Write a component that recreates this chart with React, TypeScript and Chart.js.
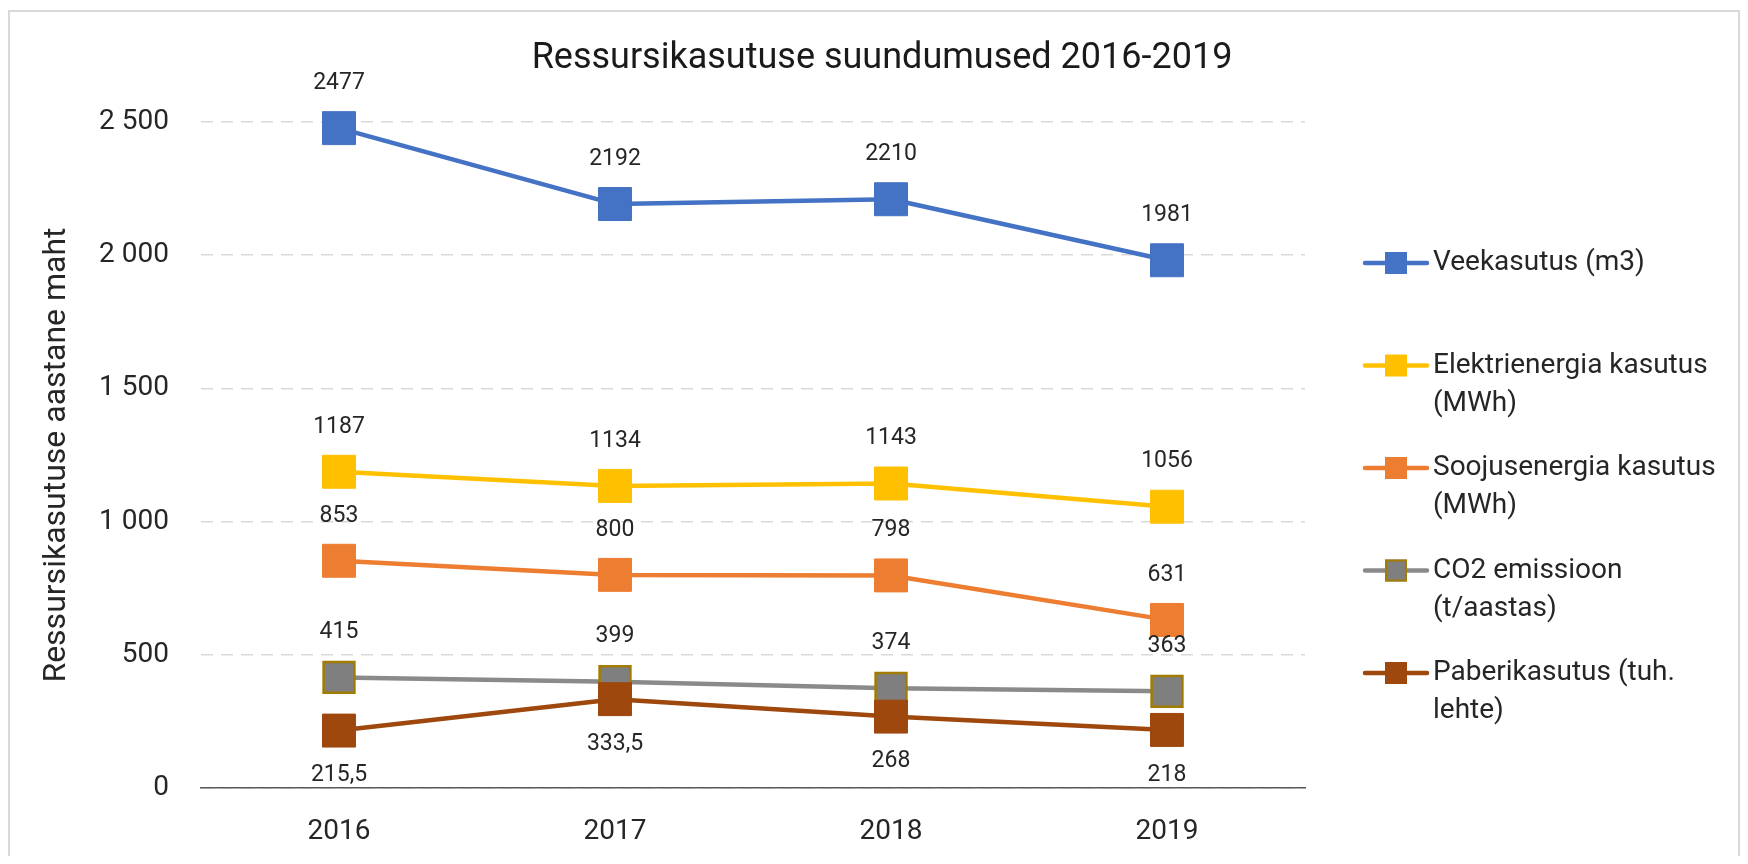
import React, { useEffect, useRef } from 'react';
import { Chart, registerables } from 'chart.js';

Chart.register(...registerables);

const chartTitle = 'Ressursikasutuse suundumused 2016-2019';
const yAxisTitle = 'Ressursikasutuse aastane maht';
const years = ['2016', '2017', '2018', '2019'];
const seriesNames = [
  'Veekasutus (m3)',
  'Elektrienergia kasutus (MWh)',
  'Soojusenergia kasutus (MWh)',
  'CO2 emissioon (t/aastas)',
  'Paberikasutus (tuh. lehte)',
];
const waterValues = [2477, 2192, 2210, 1981];
const electricityValues = [1187, 1134, 1143, 1056];
const heatValues = [853, 800, 798, 631];
const co2Values = [415, 399, 374, 363];
const paperValues = [215.5, 333.5, 268, 218];
const seriesValues = [waterValues, electricityValues, heatValues, co2Values, paperValues];
const seriesColors = ['#4472C4', '#FFC000', '#ED7D31', '#8A8A8A', '#9E480E'];
const markerFillColors = ['#4472C4', '#FFC000', '#ED7D31', '#7F7F7F', '#9E480E'];
const markerBorderColors = ['#4472C4', '#FFC000', '#ED7D31', '#A27C00', '#9E480E'];
const labelSides = ['above', 'above', 'above', 'above', 'below'];
const yMin = 0;
const yMax = 2500;
const yStep = 500;

const FONT = 'Roboto';
const TEXT = '#262626';

const fmtLabel = (v: number) => String(v).replace('.', ',');
const fmtTick = (v: number) => String(v).replace(/\B(?=(\d{3})+(?!\d))/g, ' ');

function wrapText(ctx: CanvasRenderingContext2D, text: string, maxW: number): string[] {
  const words = text.split(' ');
  const lines: string[] = [];
  let cur = '';
  for (const w of words) {
    const test = cur ? cur + ' ' + w : w;
    if (cur && ctx.measureText(test).width > maxW) {
      lines.push(cur);
      cur = w;
    } else {
      cur = test;
    }
  }
  if (cur) lines.push(cur);
  return lines;
}

const decorPlugin = {
  id: 'decor',
  afterDatasetsDraw(chart: any) {
    const ctx: CanvasRenderingContext2D = chart.ctx;
    ctx.save();
    ctx.font = `23px ${FONT}`;
    ctx.fillStyle = TEXT;
    ctx.textAlign = 'center';
    ctx.textBaseline = 'middle';
    chart.data.datasets.forEach((ds: any, i: number) => {
      const meta = chart.getDatasetMeta(i);
      meta.data.forEach((pt: any, j: number) => {
        const off = labelSides[i] === 'below' ? 45 : -45;
        ctx.fillText(fmtLabel(ds.data[j]), pt.x, pt.y + off);
      });
    });
    ctx.restore();
  },
  afterDraw(chart: any) {
    const ctx: CanvasRenderingContext2D = chart.ctx;
    ctx.save();
    // title
    ctx.font = `36px ${FONT}`;
    ctx.fillStyle = '#1a1a1a';
    ctx.textAlign = 'center';
    ctx.textBaseline = 'middle';
    ctx.fillText(chartTitle, 872, 47);

    // legend
    const lineX0 = chart.chartArea.right + 60;
    const lineLen = 62;
    const markerSize = 22;
    const textX = lineX0 + lineLen + 6;
    const firstY = 251;
    const step = 102.5;
    const lineGap = 38;
    ctx.font = `28px ${FONT}`;
    ctx.textAlign = 'left';
    ctx.textBaseline = 'middle';
    chart.data.datasets.forEach((ds: any, i: number) => {
      const y = firstY + i * step;
      ctx.strokeStyle = seriesColors[i];
      ctx.lineWidth = 4.5;
      ctx.lineCap = 'round';
      ctx.beginPath();
      ctx.moveTo(lineX0, y);
      ctx.lineTo(lineX0 + lineLen, y);
      ctx.stroke();
      const mx = lineX0 + lineLen / 2;
      ctx.fillStyle = markerFillColors[i];
      ctx.fillRect(mx - markerSize / 2, y - markerSize / 2, markerSize, markerSize);
      if (markerBorderColors[i] !== markerFillColors[i]) {
        ctx.strokeStyle = markerBorderColors[i];
        ctx.lineWidth = 2;
        ctx.strokeRect(mx - markerSize / 2 + 1, y - markerSize / 2 + 1, markerSize - 2, markerSize - 2);
      }
      ctx.fillStyle = TEXT;
      const lines = wrapText(ctx, ds.label, chart.width - textX - 2);
      lines.forEach((ln, k) => ctx.fillText(ln, textX, y + k * lineGap));
    });
    ctx.restore();
  },
};

export default function App() {
  const canvasRef = useRef<HTMLCanvasElement | null>(null);

  useEffect(() => {
    if (!canvasRef.current) return;
    const datasets = seriesNames.map((name, i) => ({
      label: name,
      data: seriesValues[i],
      borderColor: seriesColors[i],
      backgroundColor: markerFillColors[i],
      pointBackgroundColor: markerFillColors[i],
      pointBorderColor: markerBorderColors[i],
      pointBorderWidth: i === 3 ? 2.5 : 1,
      pointStyle: 'rect',
      pointRadius: i === 3 ? 21.8 : 23.3,
      pointHoverRadius: i === 3 ? 21.8 : 23.3,
      borderWidth: 4.5,
      borderCapStyle: 'round',
      borderJoinStyle: 'round',
      tension: 0,
      fill: false,
      clip: false,
      order: seriesNames.length - 1 - i,
    }));

    const chart = new Chart(canvasRef.current, {
      type: 'line',
      data: { labels: years, datasets: datasets as any },
      plugins: [decorPlugin as any],
      options: {
        responsive: false,
        animation: false,
        devicePixelRatio: 1,
        layout: { padding: { top: 110, right: 433, bottom: 0, left: 0 } },
        plugins: {
          legend: { display: false },
          tooltip: { enabled: false },
          title: { display: false },
        },
        scales: {
          x: {
            type: 'category',
            offset: true,
            grid: { display: false, drawTicks: false },
            border: { display: true, color: '#595959', width: 1.5 },
            ticks: {
              font: { family: FONT, size: 28 },
              color: TEXT,
              padding: 27,
              maxRotation: 0,
              autoSkip: false,
            },
            afterFit: (s: any) => {
              s.height = 68;
            },
          },
          y: {
            min: yMin,
            max: yMax,
            ticks: {
              stepSize: yStep,
              font: { family: FONT, size: 28 },
              color: TEXT,
              padding: 32,
              callback: (v: any) => fmtTick(Number(v)),
            },
            grid: { color: '#D9D9D9', lineWidth: 1.5, drawTicks: false },
            border: { display: false, dash: [12, 8] },
            title: {
              display: true,
              text: yAxisTitle,
              font: { family: FONT, size: 32 },
              color: TEXT,
              padding: { top: 28, bottom: 0 },
            },
            afterFit: (s: any) => {
              s.width = 191;
            },
          },
        },
      } as any,
    });

    let alive = true;
    if ((document as any).fonts && (document as any).fonts.load) {
      (document as any).fonts
        .load(`28px ${FONT}`)
        .then(() => {
          if (alive) chart.update();
        })
        .catch(() => {});
    }

    return () => {
      alive = false;
      chart.destroy();
    };
  }, []);

  return (
    <div
      style={{
        position: 'relative',
        top: 2,
        width: 1732,
        height: 848,
        border: '2px solid #D9D9D9',
        boxSizing: 'border-box',
        background: '#ffffff',
      }}
    >
      <canvas ref={canvasRef} width={1728} height={844} style={{ display: 'block' }} />
    </div>
  );
}
